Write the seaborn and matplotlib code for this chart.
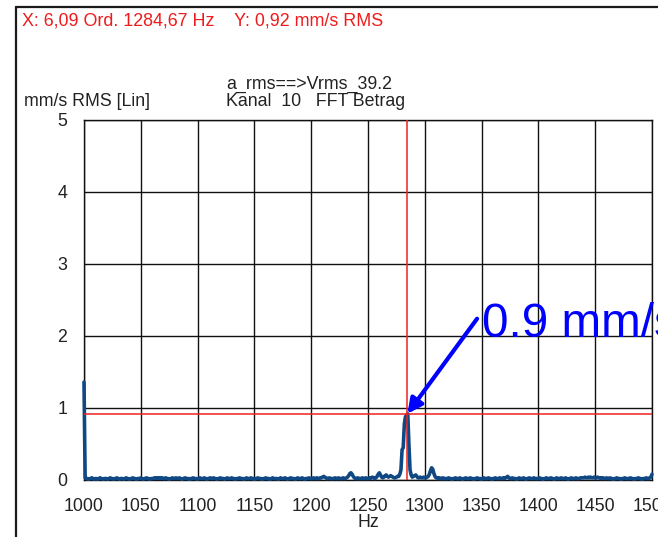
import numpy as np
import pandas as pd
import matplotlib
matplotlib.use("Agg")
import matplotlib.pyplot as plt
from matplotlib.lines import Line2D
import seaborn as sns

# FFT magnitude (mm/s RMS), 1 Hz bins, channel 10
amp_1000_1099 = [
    1.36, 0.03, 0.02, 0.02, 0.01, 0.02, 0.02, 0.03, 0.02, 0.01, 0.02, 0.02, 0.01, 0.02, 0.03, 0.02, 0.02, 0.01, 0.02, 0.02,
    0.02, 0.01, 0.02, 0.03, 0.02, 0.02, 0.01, 0.02, 0.02, 0.03, 0.02, 0.01, 0.02, 0.02, 0.02, 0.01, 0.02, 0.03, 0.02, 0.02,
    0.01, 0.02, 0.02, 0.03, 0.02, 0.02, 0.01, 0.02, 0.02, 0.02, 0.03, 0.02, 0.01, 0.02, 0.02, 0.03, 0.02, 0.02, 0.01, 0.02,
    0.02, 0.02, 0.03, 0.03, 0.02, 0.03, 0.03, 0.02, 0.03, 0.03, 0.02, 0.02, 0.03, 0.02, 0.02, 0.01, 0.02, 0.02, 0.03, 0.02,
    0.02, 0.03, 0.02, 0.02, 0.03, 0.02, 0.01, 0.02, 0.02, 0.03, 0.02, 0.02, 0.02, 0.01, 0.02, 0.02, 0.03, 0.02, 0.02, 0.02,
]
amp_1100_1199 = [
    0.01, 0.02, 0.03, 0.02, 0.02, 0.02, 0.03, 0.02, 0.01, 0.02, 0.02, 0.03, 0.02, 0.02, 0.03, 0.02, 0.02, 0.01, 0.02, 0.02,
    0.03, 0.02, 0.02, 0.02, 0.01, 0.02, 0.03, 0.02, 0.02, 0.02, 0.03, 0.02, 0.02, 0.01, 0.02, 0.02, 0.02, 0.03, 0.02, 0.02,
    0.02, 0.01, 0.02, 0.03, 0.02, 0.02, 0.02, 0.03, 0.02, 0.02, 0.01, 0.02, 0.02, 0.03, 0.02, 0.02, 0.02, 0.01, 0.02, 0.02,
    0.03, 0.02, 0.02, 0.02, 0.01, 0.02, 0.03, 0.02, 0.02, 0.02, 0.02, 0.01, 0.02, 0.03, 0.02, 0.02, 0.02, 0.03, 0.02, 0.01,
    0.02, 0.02, 0.03, 0.02, 0.02, 0.02, 0.01, 0.02, 0.03, 0.02, 0.02, 0.02, 0.03, 0.02, 0.01, 0.02, 0.02, 0.02, 0.03, 0.02,
]
amp_1200_1299 = [
    0.02, 0.02, 0.03, 0.02, 0.02, 0.03, 0.02, 0.02, 0.03, 0.03, 0.04, 0.05, 0.04, 0.03, 0.02, 0.02, 0.03, 0.02, 0.02, 0.02,
    0.02, 0.03, 0.02, 0.02, 0.03, 0.02, 0.02, 0.02, 0.03, 0.02, 0.02, 0.03, 0.04, 0.06, 0.09, 0.10, 0.08, 0.05, 0.03, 0.02,
    0.02, 0.03, 0.02, 0.02, 0.02, 0.03, 0.02, 0.02, 0.03, 0.02, 0.02, 0.03, 0.02, 0.03, 0.04, 0.03, 0.02, 0.03, 0.05, 0.08,
    0.10, 0.07, 0.04, 0.03, 0.04, 0.06, 0.07, 0.05, 0.04, 0.05, 0.06, 0.05, 0.04, 0.03, 0.03, 0.04, 0.05, 0.05, 0.08, 0.14,
    0.42, 0.45, 0.78, 0.88, 0.90, 0.92, 0.50, 0.14, 0.07, 0.04, 0.05, 0.06, 0.07, 0.05, 0.03, 0.03, 0.04, 0.03, 0.03, 0.04,
]
amp_1300_1399 = [
    0.03, 0.03, 0.04, 0.05, 0.08, 0.13, 0.17, 0.15, 0.09, 0.05, 0.03, 0.03, 0.02, 0.03, 0.02, 0.02, 0.03, 0.02, 0.02, 0.02,
    0.02, 0.03, 0.02, 0.02, 0.01, 0.02, 0.02, 0.03, 0.02, 0.02, 0.02, 0.03, 0.02, 0.01, 0.02, 0.02, 0.03, 0.02, 0.02, 0.02,
    0.03, 0.02, 0.02, 0.01, 0.02, 0.02, 0.03, 0.02, 0.02, 0.02, 0.01, 0.02, 0.03, 0.02, 0.02, 0.02, 0.03, 0.02, 0.02, 0.01,
    0.02, 0.02, 0.03, 0.02, 0.02, 0.02, 0.03, 0.02, 0.02, 0.03, 0.02, 0.03, 0.04, 0.05, 0.03, 0.02, 0.02, 0.03, 0.02, 0.02,
    0.02, 0.01, 0.02, 0.03, 0.02, 0.02, 0.02, 0.03, 0.02, 0.01, 0.02, 0.02, 0.03, 0.02, 0.02, 0.02, 0.03, 0.02, 0.02, 0.02,
]
amp_1400_1500 = [
    0.02, 0.03, 0.02, 0.02, 0.01, 0.02, 0.02, 0.03, 0.02, 0.02, 0.02, 0.03, 0.02, 0.02, 0.01, 0.02, 0.03, 0.02, 0.02, 0.02,
    0.03, 0.02, 0.02, 0.02, 0.03, 0.02, 0.01, 0.02, 0.02, 0.03, 0.02, 0.02, 0.02, 0.03, 0.02, 0.02, 0.02, 0.03, 0.03, 0.03,
    0.03, 0.04, 0.03, 0.03, 0.04, 0.03, 0.04, 0.03, 0.03, 0.04, 0.03, 0.03, 0.04, 0.03, 0.03, 0.02, 0.03, 0.03, 0.02, 0.02,
    0.03, 0.02, 0.02, 0.03, 0.02, 0.02, 0.01, 0.02, 0.02, 0.03, 0.02, 0.02, 0.02, 0.01, 0.02, 0.02, 0.03, 0.02, 0.02, 0.02,
    0.02, 0.03, 0.02, 0.02, 0.01, 0.02, 0.02, 0.02, 0.03, 0.02, 0.02, 0.01, 0.02, 0.02, 0.02, 0.03, 0.02, 0.02, 0.03, 0.04,
    0.08,
]

start_hz = 1000
bin_hz = 1.0

# cursor readout
cursor_hz = 1284.67
cursor_order = "6,09"
cursor_val = 0.92
peak_label = "0.9 mm/s"

x_ticks = [1000, 1050, 1100, 1150, 1200, 1250, 1300, 1350, 1400, 1450, 1500]
y_ticks = [0, 1, 2, 3, 4, 5]

amp = np.concatenate([amp_1000_1099, amp_1100_1199, amp_1200_1299,
                      amp_1300_1399, amp_1400_1500])
freq = start_hz + bin_hz * np.arange(len(amp))
df = pd.DataFrame({"Hz": freq, "amp": amp})

sns.set_style("white")
plt.rcParams["font.family"] = ["Liberation Sans", "DejaVu Sans"]

W, H = 658, 537
fig = plt.figure(figsize=(W / 100, H / 100), dpi=100)
fig.patch.set_facecolor("white")

L, R, T, B = 84, 652, 120, 480
ax = fig.add_axes([L / W, 1 - B / H, (R - L) / W, (B - T) / H])

sns.lineplot(data=df, x="Hz", y="amp", ax=ax, color="#104884", lw=2.6,
             zorder=3, clip_on=False)

ax.set_xlim(1000, 1500)
ax.set_ylim(0, 5)
ax.set_xticks(x_ticks)
ax.set_yticks(y_ticks)
ax.set_xticklabels([str(t) for t in x_ticks])
ax.set_yticklabels([str(t) for t in y_ticks])
ax.tick_params(axis="both", length=0, labelsize=12.8, colors="#222222")
ax.tick_params(axis="y", pad=12)
ax.tick_params(axis="x", pad=13)
ax.grid(True, color="#111111", lw=1.0, zorder=1)
ax.set_axisbelow(True)
for s in ax.spines.values():
    s.set_color("#111111")
    s.set_linewidth(1.0)
ax.set_xlabel("Hz", fontsize=12.8, color="#222222", labelpad=-1)
ax.set_ylabel("")

# cursor lines
ax.axhline(cursor_val, color="#f02020", lw=1.1, zorder=4)
ax.axvline(cursor_hz, color="#f02020", lw=1.1, zorder=4)

# peak annotation
ax.annotate("", xy=(cursor_hz, cursor_val), xytext=(1346, 2.24),
            arrowprops=dict(arrowstyle="-|>", color="#0000ff", lw=3.0,
                            mutation_scale=22, shrinkA=0, shrinkB=0),
            zorder=5, annotation_clip=False)
ax.text(1350, 1.99, peak_label, color="#0000ff", fontsize=34.3,
        ha="left", va="baseline", clip_on=False, zorder=5)

# header texts
def px_text(x, y, s, **kw):
    fig.text(x / W, 1 - y / H, s, ha="left", va="baseline", **kw)

px_text(22, 25, f"X: {cursor_order} Ord. {str(cursor_hz).replace('.', ',')} Hz    "
        f"Y: {str(cursor_val).replace('.', ',')} mm/s RMS",
        fontsize=12.9, color="#ee1c1c")
px_text(24, 106, "mm/s RMS [Lin]", fontsize=12.8, color="#222222")
px_text(226, 89, "a_rms==>Vrms_39.2", fontsize=12.8, color="#222222")
px_text(226, 106, "Kanal  10   FFT Betrag", fontsize=12.8, color="#222222")

# outer frame
fx = 15.5 / W
fy = 1 - 7 / H
fig.add_artist(Line2D([fx, fx], [0, fy], color="#1a1a1a", lw=1.6,
                      transform=fig.transFigure))
fig.add_artist(Line2D([fx, 1], [fy, fy], color="#1a1a1a", lw=1.6,
                      transform=fig.transFigure))

fig.savefig("out.png", dpi=100)
